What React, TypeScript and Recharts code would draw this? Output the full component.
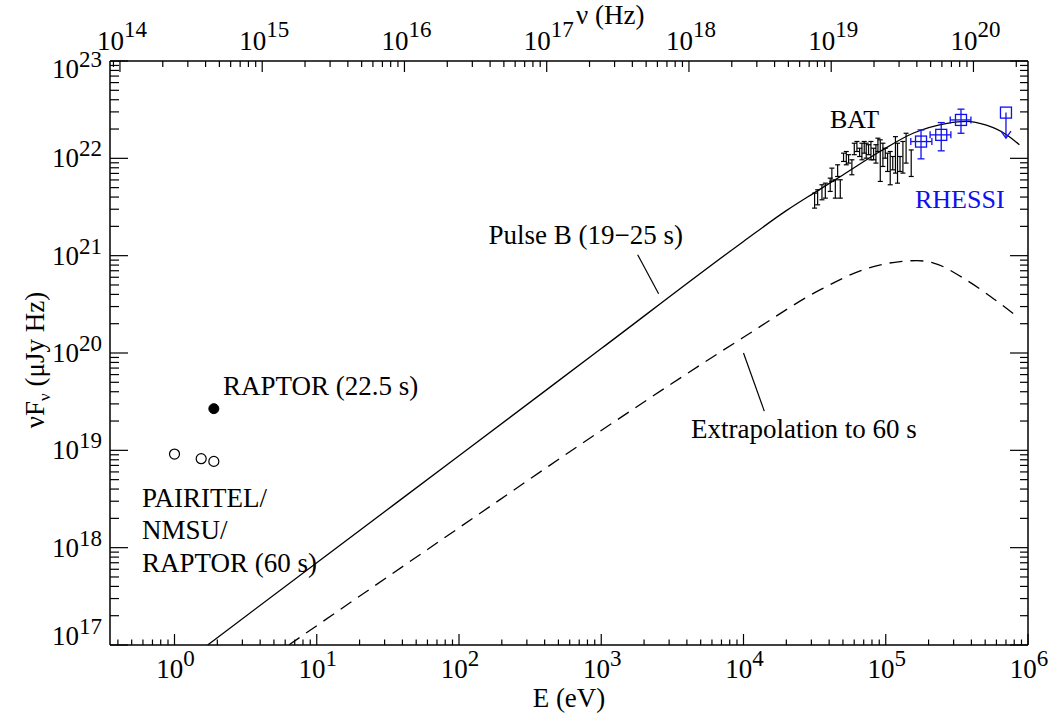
import { ComposedChart, Line, Scatter, XAxis, YAxis, ErrorBar, ReferenceLine } from "recharts";

const FONT = '"Liberation Serif", "DejaVu Serif", "Times New Roman", Times, serif';
const BLUE = "#1010f0";

// axis ranges (E in eV, vFv in uJy Hz)
const E_MIN = 0.352;
const E_MAX = 1e6;
const F_MIN = 1e17;
const F_MAX = 1e23;
const H_EV = 4.1357e-15; // eV s, for the nu axis on top

// Pulse B model (solid)
const pulseE = [1.71, 10, 100, 1000, 1e4, 2e4, 3.1e4, 5e4, 9.1e4, 1.57e5, 2.7e5, 3.7e5, 5.1e5, 7.1e5, 8.7e5];
const pulseF = [1e17, 7.0e17, 8.8e18, 1.11e20, 1.4e21, 2.9e21, 4.37e21, 6.75e21, 1.175e22, 1.82e22, 2.29e22, 2.4e22, 2.19e22, 1.74e22, 1.38e22];

// extrapolation to 60 s (dashed)
const extrapE = [6.36, 100, 1000, 1e4, 3.5e4, 7.4e4, 1.26e5, 1.66e5, 2.17e5, 3.7e5, 6.4e5, 8.3e5];
const extrapF = [1e17, 1.6e18, 1.6e19, 1.45e20, 4.5e20, 7.4e20, 8.7e20, 8.9e20, 8.4e20, 5.6e20, 3.2e20, 2.4e20];

// optical points
const opticalE = [1.0, 1.54, 1.89];
const opticalF = [9.16e18, 8.2e18, 7.7e18];
const raptorE = [1.89];
const raptorF = [2.68e19];

// BAT spectrum
const batE = [3.16e4, 3.32e4, 3.56e4, 3.76e4, 4.07e4, 4.18e4, 4.42e4, 4.59e4, 4.79e4, 5.05e4, 5.28e4, 5.48e4, 5.78e4, 6.01e4, 6.27e4, 6.55e4, 6.8e4, 7.06e4, 7.29e4, 7.57e4, 7.87e4, 8.21e4, 8.53e4, 8.81e4, 9.15e4, 9.55e4, 9.92e4, 1.03e5, 1.075e5, 1.12e5, 1.17e5, 1.21e5, 1.26e5, 1.32e5, 1.39e5, 1.51e5];
const batF = [3.68e21, 3.98e21, 4.48e21, 4.66e21, 5.35e21, 6.78e21, 4.85e21, 7.47e21, 4.85e21, 1.024e22, 1.004e22, 9.85e21, 8.09e21, 1.247e22, 1.322e22, 1.153e22, 1.175e22, 1.297e22, 1.199e22, 1.22e22, 1.199e22, 1.107e22, 1.107e22, 1.38e22, 9.46e21, 1.09e22, 1.13e22, 9.1e21, 7.93e21, 8.93e21, 1.09e22, 8.93e21, 8.75e21, 1.024e22, 1.27e22, 8.93e21];
const batHi = [4.39e21, 4.75e21, 5.35e21, 5.56e21, 6.26e21, 7.93e21, 6.02e21, 8.58e21, 6.02e21, 1.13e22, 1.175e22, 1.09e22, 9.66e21, 1.43e22, 1.49e22, 1.27e22, 1.43e22, 1.49e22, 1.43e22, 1.38e22, 1.49e22, 1.27e22, 1.38e22, 1.61e22, 1.55e22, 1.43e22, 1.27e22, 1.13e22, 1.175e22, 1.044e22, 1.67e22, 1.43e22, 1.044e22, 1.49e22, 1.81e22, 1.22e22];
const batLo = [3.08e21, 3.33e21, 3.75e21, 3.9e21, 4.57e21, 5.79e21, 3.9e21, 6.51e21, 3.9e21, 9.29e21, 8.58e21, 8.93e21, 6.78e21, 1.09e22, 1.175e22, 1.044e22, 9.66e21, 1.13e22, 1.004e22, 1.09e22, 9.66e21, 9.66e21, 8.93e21, 1.175e22, 5.79e21, 8.25e21, 1.004e22, 7.33e21, 5.35e21, 7.62e21, 7.05e21, 5.56e21, 7.33e21, 7.05e21, 8.93e21, 6.51e21];

// RHESSI
const rhessiE = [1.77e5, 2.455e5, 3.38e5];
const rhessiF = [1.487e22, 1.742e22, 2.48e22];
const rhessiELo = [1.5e5, 2.05e5, 2.84e5];
const rhessiEHi = [2.11e5, 2.87e5, 3.97e5];
const rhessiFLo = [9.88e21, 1.194e22, 1.81e22];
const rhessiFHi = [1.96e22, 2.33e22, 3.2e22];
const limitE = [7.0e5];
const limitF = [2.95e22];
const limitTo = [1.61e22];

// leader lines for the annotations [E1, F1, E2, F2]
const pulseLeader = [1803, 1.02e21, 2531, 4.07e20];
const extrapLeader = [1.0e4, 1.0e20, 1.4e4, 2.53e19];

const lg = Math.log10;
const pts = (xs: number[], ys: number[]) => xs.map((e, i) => ({ x: lg(e), y: lg(ys[i]) }));

const NU_OFF = -lg(H_EV);

const pulse = pts(pulseE, pulseF);
const pulseNu = pulse.map((p) => ({ x: p.x + NU_OFF, y: p.y }));
const extrap = pts(extrapE, extrapF);
const optical = pts(opticalE, opticalF);
const raptor = pts(raptorE, raptorF);
const bat = batE.map((e, i) => ({
  x: lg(e),
  y: lg(batF[i]),
  ey: [lg(batF[i]) - lg(batLo[i]), lg(batHi[i]) - lg(batF[i])],
}));
const rhessi = rhessiE.map((e, i) => ({
  x: lg(e),
  y: lg(rhessiF[i]),
  ex: [lg(e) - lg(rhessiELo[i]), lg(rhessiEHi[i]) - lg(e)],
  ey: [lg(rhessiF[i]) - lg(rhessiFLo[i]), lg(rhessiFHi[i]) - lg(rhessiF[i])],
}));
const limitTop = pts(limitE, limitF);
const limitEnd = pts(limitE, limitTo);
const limitLine = [...limitTop, ...limitEnd];

function logTicks(lo: number, hi: number) {
  const out: number[] = [];
  for (let n = Math.floor(lo); n <= Math.ceil(hi); n++) {
    for (let k = 1; k <= 9; k++) {
      const v = k === 1 ? n : n + lg(k);
      if (v >= lo - 1e-9 && v <= hi + 1e-9) out.push(v);
    }
  }
  return out;
}

const eTicks = logTicks(lg(E_MIN), lg(E_MAX));
const nuTicks = logTicks(lg(E_MIN) + NU_OFF, lg(E_MAX) + NU_OFF);
const fTicks = logTicks(lg(F_MIN), lg(F_MAX));

const isMajor = (v: number) => Math.abs(v - Math.round(v)) < 1e-9;

function Pow({ x, y, n, anchor, sup }: any) {
  return (
    <text x={x} y={y} textAnchor={anchor} fontFamily={FONT} style={{ fontFamily: FONT }} fill="#000">
      <tspan fontSize={27}>10</tspan>
      <tspan fontSize={23} dy={-sup}>{n}</tspan>
    </text>
  );
}

const BottomTick = (p: any) => {
  const v = p.payload.value;
  const m = isMajor(v);
  return (
    <g>
      <line x1={p.x} y1={p.y} x2={p.x} y2={p.y - (m ? 11 : 5.5)} stroke="#000" strokeWidth={1.2} />
      {m && <Pow x={p.x + 1} y={p.y + 33} n={Math.round(v)} anchor="middle" sup={12} />}
    </g>
  );
};

const TopTick = (p: any) => {
  const v = p.payload.value;
  const m = isMajor(v);
  return (
    <g>
      <line x1={p.x} y1={p.y} x2={p.x} y2={p.y + (m ? 11 : 6)} stroke="#000" strokeWidth={1.2} />
      {m && <Pow x={p.x + 2} y={p.y - 11} n={Math.round(v)} anchor="middle" sup={13} />}
    </g>
  );
};

const LeftTick = (p: any) => {
  const v = p.payload.value;
  const m = isMajor(v);
  const n = Math.round(v);
  const dy = n === 23 ? 17 : n === 17 ? 0 : 9;
  return (
    <g>
      <line x1={p.x} y1={p.y} x2={p.x + (m ? 18 : 9)} y2={p.y} stroke="#000" strokeWidth={1.2} />
      {m && <Pow x={p.x - 8} y={p.y + dy} n={n} anchor="end" sup={11} />}
    </g>
  );
};

const RightTick = (p: any) => {
  const v = p.payload.value;
  const m = isMajor(v);
  return <line x1={p.x} y1={p.y} x2={p.x - (m ? 18 : 8)} y2={p.y} stroke="#000" strokeWidth={1.2} />;
};

const none = () => <g />;
const openCircle = (p: any) => <circle cx={p.cx} cy={p.cy} r={5} fill="#fff" stroke="#000" strokeWidth={1.2} />;
const fullCircle = (p: any) => <circle cx={p.cx} cy={p.cy} r={5} fill="#000" stroke="#000" />;
const square = (p: any) => (
  <rect x={p.cx - 5.5} y={p.cy - 5.5} width={11} height={11} fill="none" stroke={BLUE} strokeWidth={1.3} />
);
const arrowHead = (p: any) => (
  <path d={`M${p.cx - 5},${p.cy - 7} L${p.cx},${p.cy} L${p.cx + 5},${p.cy - 7}`} fill="none" stroke={BLUE} strokeWidth={1.3} />
);

const axisStyle = { stroke: "#000", strokeWidth: 1.5 };
const txt = { fontFamily: FONT, fontSize: 27, fill: "#000", style: { fontFamily: FONT } };

export default function App() {
  return (
    <div style={{ position: "absolute", left: 0, top: 0, width: 1050, height: 715, background: "#fff", fontFamily: FONT }}>
      <ComposedChart width={1050} height={715} margin={{ top: 0, right: 0, bottom: 0, left: 0 }}>
        <XAxis
          xAxisId="bottom"
          dataKey="x"
          type="number"
          domain={[lg(E_MIN), lg(E_MAX)]}
          allowDataOverflow
          ticks={eTicks}
          interval={0}
          height={70}
          tickSize={0}
          tickMargin={0}
          tickLine={false}
          axisLine={axisStyle}
          tick={BottomTick}
        />
        <XAxis
          xAxisId="top"
          dataKey="x"
          orientation="top"
          type="number"
          domain={[lg(E_MIN) + NU_OFF, lg(E_MAX) + NU_OFF]}
          allowDataOverflow
          ticks={nuTicks}
          interval={0}
          height={61}
          tickSize={0}
          tickMargin={0}
          tickLine={false}
          axisLine={axisStyle}
          tick={TopTick}
        />
        <YAxis
          yAxisId="left"
          dataKey="y"
          type="number"
          domain={[lg(F_MIN), lg(F_MAX)]}
          allowDataOverflow
          ticks={fTicks}
          interval={0}
          width={110}
          tickSize={0}
          tickMargin={0}
          tickLine={false}
          axisLine={axisStyle}
          tick={LeftTick}
        />
        <YAxis
          yAxisId="right"
          dataKey="y"
          orientation="right"
          type="number"
          domain={[lg(F_MIN), lg(F_MAX)]}
          allowDataOverflow
          ticks={fTicks}
          interval={0}
          width={22}
          tickSize={0}
          tickMargin={0}
          tickLine={false}
          axisLine={axisStyle}
          tick={RightTick}
        />

        {/* same curve on the frequency axes, invisible, so those axes get their ticks */}
        <Line xAxisId="top" yAxisId="right" data={pulseNu} dataKey="y" stroke="none" dot={false} isAnimationActive={false} />

        <Line xAxisId="bottom" yAxisId="left" data={pulse} dataKey="y" type="monotone" stroke="#000" strokeWidth={1.3} dot={false} isAnimationActive={false} />
        <Line xAxisId="bottom" yAxisId="left" data={extrap} dataKey="y" type="monotone" stroke="#000" strokeWidth={1.3} strokeDasharray="13 8" dot={false} isAnimationActive={false} />

        <ReferenceLine xAxisId="bottom" yAxisId="left" ifOverflow="visible" stroke="#000" strokeWidth={1.2}
          segment={[{ x: lg(pulseLeader[0]), y: lg(pulseLeader[1]) }, { x: lg(pulseLeader[2]), y: lg(pulseLeader[3]) }]} />
        <ReferenceLine xAxisId="bottom" yAxisId="left" ifOverflow="visible" stroke="#000" strokeWidth={1.2}
          segment={[{ x: lg(extrapLeader[0]), y: lg(extrapLeader[1]) }, { x: lg(extrapLeader[2]), y: lg(extrapLeader[3]) }]} />

        <Scatter xAxisId="bottom" yAxisId="left" data={bat} dataKey="y" shape={none} isAnimationActive={false}>
          <ErrorBar dataKey="ey" direction="y" width={2.5} stroke="#000" strokeWidth={1.2} />
        </Scatter>

        <Scatter xAxisId="bottom" yAxisId="left" data={rhessi} dataKey="y" shape={square} isAnimationActive={false}>
          <ErrorBar dataKey="ey" direction="y" width={3.5} stroke={BLUE} strokeWidth={1.3} />
          <ErrorBar dataKey="ex" direction="x" width={3.5} stroke={BLUE} strokeWidth={1.3} />
        </Scatter>
        <Line xAxisId="bottom" yAxisId="left" data={limitLine} dataKey="y" stroke={BLUE} strokeWidth={1.3} dot={false} isAnimationActive={false} />
        <Scatter xAxisId="bottom" yAxisId="left" data={limitTop} dataKey="y" shape={square} isAnimationActive={false} />
        <Scatter xAxisId="bottom" yAxisId="left" data={limitEnd} dataKey="y" shape={arrowHead} isAnimationActive={false} />

        <Scatter xAxisId="bottom" yAxisId="left" data={optical} dataKey="y" shape={openCircle} isAnimationActive={false} />
        <Scatter xAxisId="bottom" yAxisId="left" data={raptor} dataKey="y" shape={fullCircle} isAnimationActive={false} />
      </ComposedChart>

      <svg width={1050} height={715} style={{ position: "absolute", left: 0, top: 0, pointerEvents: "none" }}>
        <text x={569} y={707} textAnchor="middle" {...txt}>E (eV)</text>
        <text x={576} y={24} {...txt}>ν (Hz)</text>
        <text x={44} y={360} textAnchor="middle" transform="rotate(-90 44 360)" {...txt}>
          νF<tspan fontSize={17} dy={6}>ν</tspan>
          <tspan dy={-6}> (μJy Hz)</tspan>
        </text>

        <text x={683} y={244} textAnchor="end" {...txt}>Pulse B (19−25 s)</text>
        <text x={691} y={438} {...txt}>Extrapolation to 60 s</text>
        <text x={830} y={128} {...txt} fontSize={26}>BAT</text>
        <text x={915} y={208} {...txt} fontSize={26} fill={BLUE}>RHESSI</text>
        <text x={223} y={395} {...txt}>RAPTOR (22.5 s)</text>
        <text x={142} y={507} {...txt}>PAIRITEL/</text>
        <text x={142} y={539} {...txt}>NMSU/</text>
        <text x={142} y={572} {...txt}>RAPTOR (60 s)</text>
      </svg>
    </div>
  );
}
